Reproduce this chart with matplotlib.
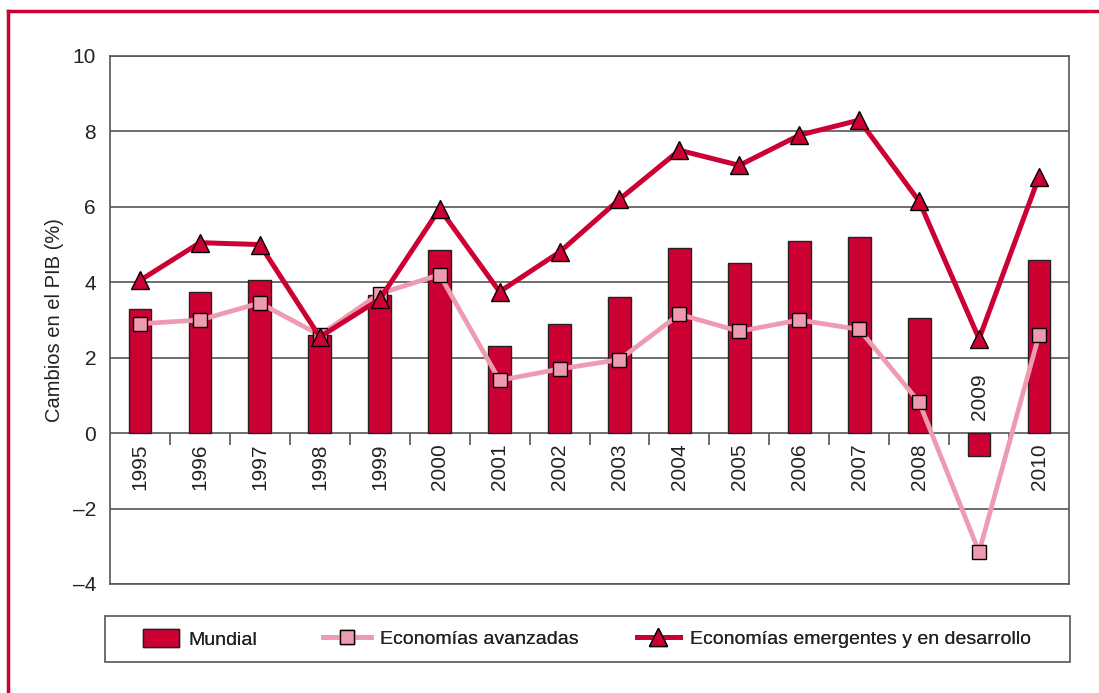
import matplotlib.pyplot as plt
from matplotlib.lines import Line2D
from matplotlib.patches import Patch, Rectangle

plt.rcParams['font.family'] = ['Liberation Sans', 'DejaVu Sans']

years = ['1995', '1996', '1997', '1998', '1999', '2000', '2001', '2002',
         '2003', '2004', '2005', '2006', '2007', '2008', '2009', '2010']
mundial = [3.3, 3.75, 4.05, 2.6, 3.65, 4.85, 2.3, 2.9,
           3.6, 4.9, 4.5, 5.1, 5.2, 3.05, -0.6, 4.6]
avanzadas = [2.9, 3.0, 3.45, 2.6, 3.7, 4.2, 1.4, 1.7,
             1.95, 3.15, 2.7, 3.0, 2.75, 0.82, -3.15, 2.6]
emergentes = [4.05, 5.05, 5.0, 2.55, 3.55, 5.95, 3.75, 4.8,
              6.2, 7.5, 7.1, 7.9, 8.3, 6.15, 2.5, 6.8]

RED = '#CC0033'
PINK = '#EE9AB0'
GRID = '#555555'
TXT = '#222222'

fig = plt.figure(figsize=(10.99, 6.93), dpi=100)
ax = fig.add_axes([0.1001, 0.1573, 0.8726, 0.7619])

x = list(range(len(years)))
ax.bar(x, mundial, width=0.38, color=RED, edgecolor=TXT, lw=1, zorder=3)
ax.plot(x, avanzadas, color=PINK, lw=3.4, marker='s', ms=10,
        mfc=PINK, mec='black', mew=1, zorder=4)
ax.plot(x, emergentes, color=RED, lw=3.6, marker='^', ms=12.5,
        mfc=RED, mec='black', mew=1, zorder=5)

ax.set_xlim(-0.5, len(years) - 0.5)
ax.set_ylim(-4, 10)
ax.set_yticks(range(-4, 11, 2))
ax.set_yticklabels(['\u20134', '\u20132', '0', '2', '4', '6', '8', '10'])
ax.tick_params(axis='y', length=0, pad=10, labelsize=15, colors=TXT)
ax.set_xticks([])
ax.grid(axis='y', color=GRID, lw=1.2, zorder=1)
for s in ax.spines.values():
    s.set_color(GRID)
    s.set_linewidth(1.2)

# small ticks hanging from the zero line between years
ax.vlines([i + 0.5 for i in x[:-1]], -0.32, 0, color=GRID, lw=1.2, zorder=2)

for i, yr in enumerate(years):
    if mundial[i] < 0:
        ax.text(i, 0.35, yr, rotation=90, ha='center', va='bottom',
                fontsize=15, color=TXT, zorder=6)
    else:
        ax.text(i, -0.28, yr, rotation=90, ha='center', va='top',
                fontsize=15, color=TXT, zorder=6)

ax.set_ylabel('Cambios en el PIB (%)', fontsize=14.5, color=TXT, labelpad=6)

# legend: a frame plus three borderless legends placed like the original
fig.add_artist(Rectangle((105 / 1099, 1 - 662 / 693), 965 / 1099, 46 / 693,
                         transform=fig.transFigure, fill=False,
                         edgecolor=GRID, lw=1.2))
items = [
    (Patch(facecolor=RED, edgecolor=TXT, lw=1), 'Mundial', 143, 1.85, 1.0),
    (Line2D([], [], color=PINK, lw=3.4, marker='s', ms=10, mfc=PINK,
            mec='black', mew=1), 'Econom\u00edas avanzadas', 323, 2.45, 0.7),
    (Line2D([], [], color=RED, lw=3.6, marker='^', ms=12.5, mfc=RED,
            mec='black', mew=1), 'Econom\u00edas emergentes y en desarrollo',
     637, 2.2, 0.7),
]
for h, lab, xpix, hl, hh in items:
    lg = fig.legend([h], [lab], loc='center left',
                    bbox_to_anchor=(xpix / 1099, 1 - 639 / 693),
                    frameon=False, fontsize=14, borderpad=0, borderaxespad=0,
                    handlelength=hl, handleheight=hh, handletextpad=0.5,
                    labelcolor=TXT)
    fig.add_artist(lg)

# crimson frame around the figure (left and top edges visible)
fig.add_artist(Line2D([0.0075, 0.0075], [0.0, 0.984], color=RED, lw=2.5,
                      transform=fig.transFigure))
fig.add_artist(Line2D([0.0075, 1.0], [0.984, 0.984], color=RED, lw=2.5,
                      transform=fig.transFigure))

fig.savefig('out.png', dpi=100)
